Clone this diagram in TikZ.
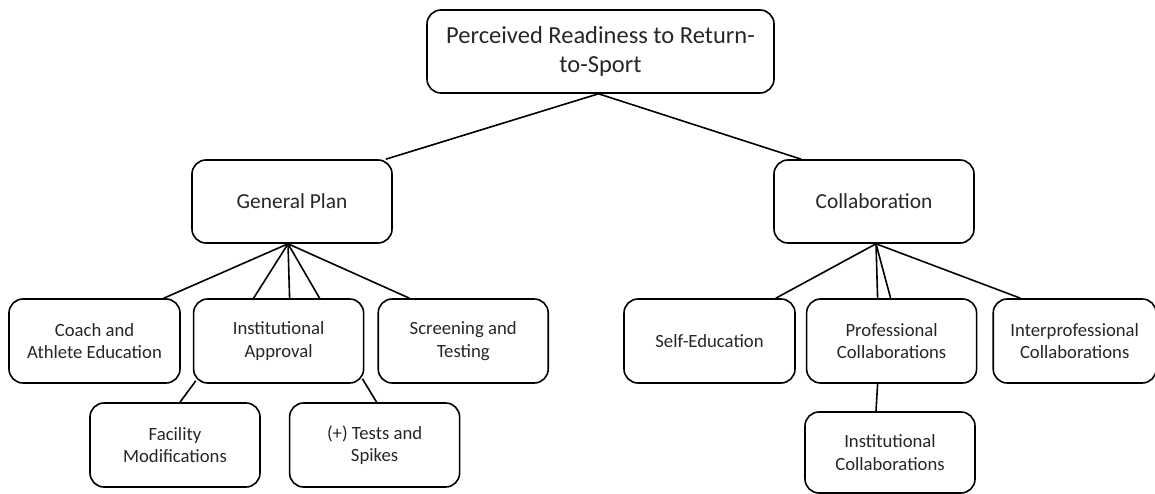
\documentclass[tikz,border=0pt]{standalone}
\usepackage{fontspec}
\setmainfont{Carlito}
\usetikzlibrary{
  positioning,
}
\tikzset{
  box/.style={draw,rectangle,rounded corners=14pt,line width=1.6pt,align=center,inner sep=0pt,text=black!85},
  topbox/.style={box,minimum width=347pt,minimum height=83pt,font=\fontsize{24.5}{29}\selectfont},
  midbox/.style={box,minimum width=200pt,minimum height=83pt,font=\fontsize{21.4}{25}\selectfont},
  leafbox/.style={box,minimum width=170pt,minimum height=84pt,font=\fontsize{18.7}{22.5}\selectfont},
  link/.style={line width=1.6pt},
}

\begin{document}
\begin{tikzpicture}[x=1pt,y=-1pt,node distance=0pt and 12pt]
        \useasboundingbox (0,0) rectangle (1155,494);

        \node[topbox]    (a0)  at (600.5,51.5)    {Perceived Readiness to Return-\\to-Sport};
        \node[midbox]    (b0)  at (292,201.5)     {General Plan};
        \node[midbox]    (b1)  at (874,201.5)     {Collaboration};

        \node[leafbox,minimum width=171pt]    (c0)  at (94.5,341)    {Coach and\\Athlete Education};
        \node[leafbox]    (c1)  [right=12pt of c0]    {Institutional\\Approval};
        \node[leafbox]    (c2)  [right=13pt of c1]    {Screening and\\Testing};
        \node[leafbox]    (d0)  at (175,445)    {Facility\\Modifications};
        \node[leafbox]    (d1)  [right=28pt of d0]    {(+) Tests and\\Spikes};

        \node[leafbox,minimum width=171pt]    (c3)  at (709.5,341)    {Self-Education};
        \node[leafbox]    (c4)  [right=10pt of c3]    {Professional\\Collaborations};
        \node[leafbox,minimum width=163pt]    (c5)  [right=15pt of c4]    {Interprofessional\\Collaborations};
        \node[leafbox,minimum height=81pt]    (d2)  at (890,452.5)    {Institutional\\Collaborations};

        \coordinate (a0s) at ([xshift=-2pt]a0.south);
        \coordinate (b0s) at ([xshift=-4pt]b0.south);
        \coordinate (b1s) at ([xshift=2pt]b1.south);

        \draw[link] (a0s) -- ([xshift=-7pt]b0.north east);
        \draw[link] (a0s) -- ([xshift=28pt]b1.north west);

        \draw[link] (b0s) -- ([xshift=-17pt]c0.north east);
        \draw[link] (b0s) -- ([xshift=-25pt]c1.north);
        \draw[link] (b0s) -- ([xshift=11pt]c1.north);
        \draw[link] (b0s) -- ([xshift=41pt]c1.north);
        \draw[link] (b0s) -- ([xshift=32pt]c2.north west);

        \draw[link] ([shift={(3pt,3pt)}]c1.south west) -- ([xshift=5pt]d0.north);
        \draw[link] ([shift={(-2pt,5pt)}]c1.south east) -- ([xshift=2pt]d1.north);

        \draw[link] (b1s) -- ([xshift=-20pt]c3.north east);
        \draw[link] (b1s) -- ([xshift=-14pt]c4.north);
        \draw[link] (b1s) -- ([xshift=-1pt]c4.north);
        \draw[link] (b1s) -- ([xshift=28pt]c5.north west);

        \draw[link] ([xshift=-14pt]c4.south) -- ([xshift=-14pt]d2.north);
    \end{tikzpicture}
\end{document}
